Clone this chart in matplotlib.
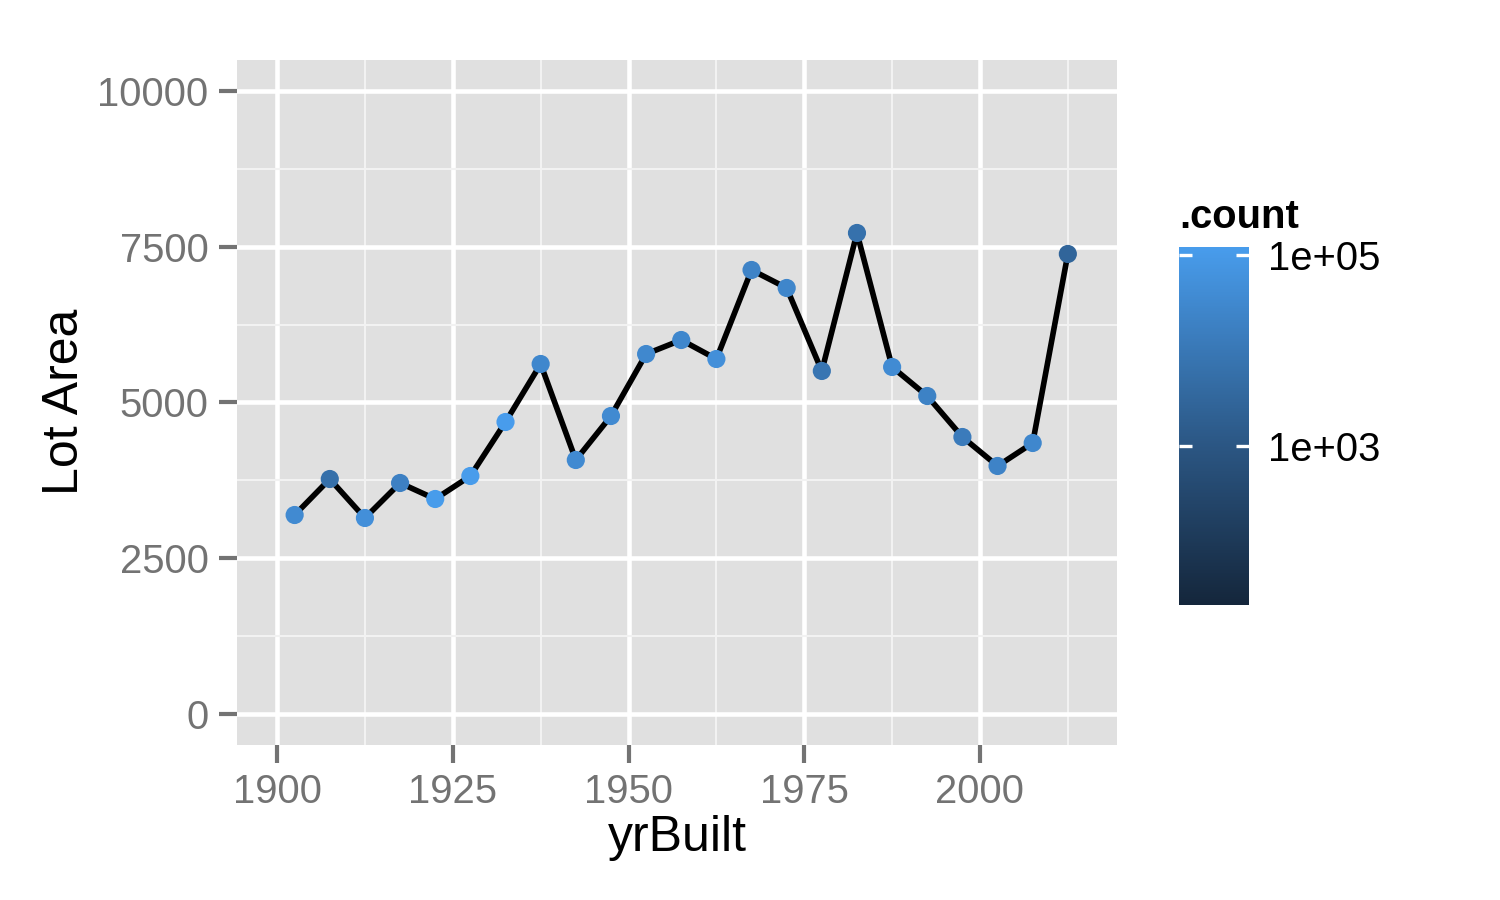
import numpy as np
import matplotlib
matplotlib.use("Agg")
import matplotlib.pyplot as plt
from matplotlib.colors import LinearSegmentedColormap, LogNorm
from matplotlib.ticker import FixedLocator

plt.rcParams['font.family'] = ['Liberation Sans', 'DejaVu Sans']

# data
yr_built = [1902.5, 1907.5, 1912.5, 1917.5, 1922.5, 1927.5, 1932.5, 1937.5,
            1942.5, 1947.5, 1952.5, 1957.5, 1962.5, 1967.5, 1972.5, 1977.5,
            1982.5, 1987.5, 1992.5, 1997.5, 2002.5, 2007.5, 2012.5]
lot_area = [3194, 3772, 3146, 3708, 3451, 3820, 4687, 5618,
            4077, 4783, 5778, 6003, 5698, 7127, 6838, 5506,
            7721, 5570, 5104, 4446, 3981, 4350, 7384]
counts = [3.5e4, 5.9e3, 4.9e4, 1.8e4, 1.15e5, 1.15e5, 1.2e5, 2.9e4,
          3.5e4, 3.5e4, 3.1e4, 2.9e4, 4.9e4, 2.2e4, 2.7e4, 8.5e3,
          6.3e3, 3.8e4, 2.0e4, 1.3e4, 2.2e4, 2.9e4, 2.8e3]
count_lo, count_hi = 22, 1.2e5

x_major = [1900, 1925, 1950, 1975, 2000]
x_minor = [1912.5, 1937.5, 1962.5, 1987.5, 2012.5]
y_major = [0, 2500, 5000, 7500, 10000]
y_minor = [1250, 3750, 6250, 8750]
cb_ticks = [1e3, 1e5]
cb_labels = ['1e+03', '1e+05']

cmap = LinearSegmentedColormap.from_list(
    'gg', [(0, '#14263B'), (0.444, '#2B5683'), (1, '#489CEC')])
norm = LogNorm(vmin=count_lo, vmax=count_hi)

tick_grey = '#737373'

fig = plt.figure(figsize=(5, 3), dpi=300)
ax = fig.add_axes([0.158, 0.1722, 0.5867, 0.7611])
ax.set_facecolor('#E0E0E0')
for s in ax.spines.values():
    s.set_visible(False)

ax.set_xlim(1894.3, 2019.5)
ax.set_ylim(-498, 10497)
ax.xaxis.set_major_locator(FixedLocator(x_major))
ax.xaxis.set_minor_locator(FixedLocator(x_minor))
ax.yaxis.set_major_locator(FixedLocator(y_major))
ax.yaxis.set_minor_locator(FixedLocator(y_minor))
ax.set_xticklabels([str(v) for v in x_major])
ax.set_yticklabels([str(v) for v in y_major])
ax.grid(which='major', color='white', linewidth=1.1)
ax.grid(which='minor', color='#F2F2F2', linewidth=0.5)
ax.set_axisbelow(True)
ax.tick_params(which='major', length=4.3, width=1.0, color=tick_grey,
               labelcolor=tick_grey, labelsize=9.6, pad=2.5)
ax.tick_params(which='minor', length=0)

ax.plot(yr_built, lot_area, color='black', linewidth=1.35, zorder=2)
ax.scatter(yr_built, lot_area, c=counts, cmap=cmap, norm=norm, s=19,
           linewidths=0, zorder=3)

fig.text(0.4513, 0.069, 'yrBuilt', ha='center', va='center', fontsize=12)
fig.text(0.0433, 0.553, 'Lot Area', ha='center', va='center', fontsize=12,
         rotation=90)

# colour legend
cax = fig.add_axes([0.786, 0.3278, 0.0467, 0.3978])
sm = plt.cm.ScalarMappable(norm=norm, cmap=cmap)
cb = fig.colorbar(sm, cax=cax)
cb.outline.set_visible(False)
cb.set_ticks(cb_ticks)
cb.set_ticklabels(cb_labels)
cax.minorticks_off()
cax.tick_params(which='major', direction='in', left=True, right=True,
                length=3.2, width=0.8, color='white', labelsize=9.6,
                labelcolor='black', pad=4.5)
fig.text(0.786, 0.759, '.count', ha='left', va='center', fontsize=9.6,
         fontweight='bold')

fig.savefig('out.png', dpi=300)
